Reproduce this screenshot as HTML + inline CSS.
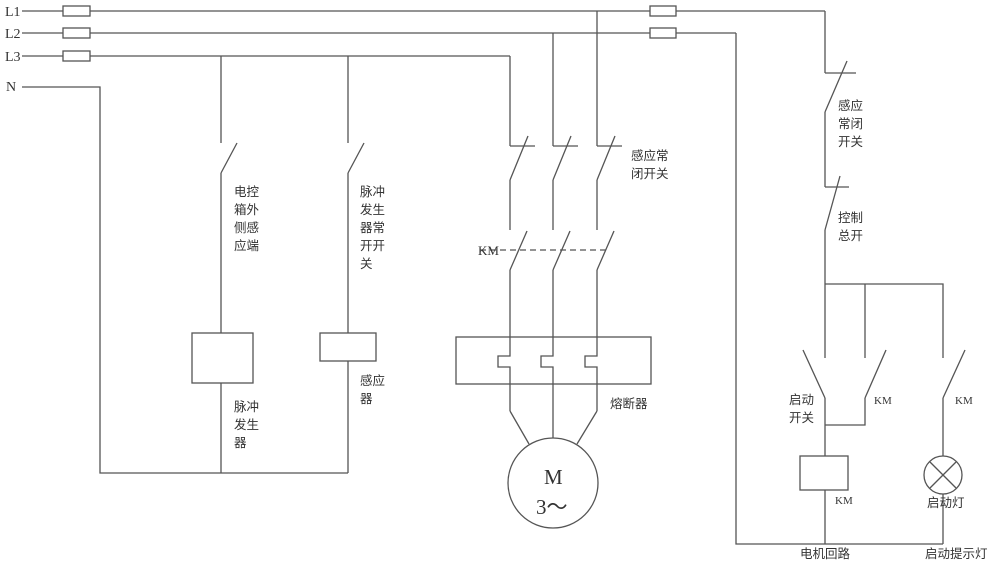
<!DOCTYPE html>
<html><head><meta charset="utf-8"><style>
body{margin:0;background:#fff}
svg{display:block}
text{font-family:"Liberation Sans","Noto Sans CJK SC",sans-serif;font-size:12.5px;fill:#333}
.s{font-family:"Liberation Serif",serif;font-size:14px}
</style></head><body>
<svg width="1000" height="567" viewBox="0 0 1000 567" xmlns="http://www.w3.org/2000/svg">
<g stroke="#555" stroke-width="1.3" fill="none">
<line x1="22" y1="11" x2="825" y2="11"/>
<line x1="22" y1="33" x2="736" y2="33"/>
<line x1="22" y1="56" x2="510" y2="56"/>
<polyline points="22,87 100,87 100,473 348,473"/>
<rect x="63" y="6" width="27" height="10" fill="#fff"/>
<rect x="63" y="28" width="27" height="10" fill="#fff"/>
<rect x="63" y="51" width="27" height="10" fill="#fff"/>
<rect x="650" y="6" width="26" height="10" fill="#fff"/>
<rect x="650" y="28" width="26" height="10" fill="#fff"/>
<line x1="221" y1="56" x2="221" y2="143"/>
<line x1="237" y1="143" x2="221" y2="173"/>
<line x1="221" y1="173" x2="221" y2="473"/>
<rect x="192" y="333" width="61" height="50" fill="#fff"/>
<line x1="348" y1="56" x2="348" y2="143"/>
<line x1="364" y1="143" x2="348" y2="173"/>
<line x1="348" y1="173" x2="348" y2="473"/>
<rect x="320" y="333" width="56" height="28" fill="#fff"/>
<line x1="510" y1="56" x2="510" y2="146"/>
<line x1="553" y1="33" x2="553" y2="146"/>
<line x1="597" y1="11" x2="597" y2="146"/>
<g id="ph">
<line x1="510" y1="146" x2="535" y2="146"/>
<line x1="528" y1="136" x2="510" y2="180"/>
<line x1="510" y1="180" x2="510" y2="230"/>
<line x1="527" y1="231" x2="510" y2="270"/>
<polyline points="510,270 510,356 498,356 498,367 510,367 510,411"/>
</g>
<use href="#ph" x="43"/>
<use href="#ph" x="87"/>
<line x1="510" y1="411" x2="529" y2="444"/>
<line x1="553" y1="411" x2="553" y2="439"/>
<line x1="597" y1="411" x2="577" y2="444"/>
<line x1="480" y1="250" x2="607" y2="250" stroke-dasharray="6,4"/>
<rect x="456" y="337" width="195" height="47"/>
<circle cx="553" cy="483" r="45" fill="#fff"/>
<line x1="825" y1="11" x2="825" y2="73"/>
<line x1="825" y1="73" x2="856" y2="73"/>
<line x1="847" y1="61" x2="825" y2="112"/>
<line x1="825" y1="112" x2="825" y2="187"/>
<line x1="825" y1="187" x2="849" y2="187"/>
<line x1="840" y1="176" x2="825" y2="230"/>
<line x1="825" y1="230" x2="825" y2="358"/>
<polyline points="825,284 943,284 943,358"/>
<line x1="865" y1="284" x2="865" y2="358"/>
<line x1="803" y1="350" x2="825" y2="398"/>
<line x1="825" y1="398" x2="825" y2="544"/>
<line x1="886" y1="350" x2="865" y2="398"/>
<polyline points="865,398 865,425 825,425"/>
<line x1="965" y1="350" x2="943" y2="398"/>
<line x1="943" y1="398" x2="943" y2="544"/>
<polyline points="736,33 736,544 943,544"/>
<rect x="800" y="456" width="48" height="34" fill="#fff"/>
<circle cx="943" cy="475" r="19" fill="#fff"/>
<line x1="930" y1="462" x2="956" y2="488"/>
<line x1="956" y1="462" x2="930" y2="488"/>
</g>
<g>
<text class="s" x="5" y="16">L1</text>
<text class="s" x="5" y="38">L2</text>
<text class="s" x="5" y="61">L3</text>
<text class="s" x="6" y="91">N</text>
<text class="s" x="478" y="255" style="font-size:13px">KM</text>
<text x="234" y="196">电控</text><text x="234" y="214">箱外</text><text x="234" y="232">侧感</text><text x="234" y="250">应端</text>
<text x="360" y="196">脉冲</text><text x="360" y="214">发生</text><text x="360" y="232">器常</text><text x="360" y="250">开开</text><text x="360" y="268">关</text>
<text x="234" y="411">脉冲</text><text x="234" y="429">发生</text><text x="234" y="447">器</text>
<text x="360" y="385">感应</text><text x="360" y="403">器</text>
<text x="631" y="160">感应常</text><text x="631" y="178">闭开关</text>
<text x="610" y="408">熔断器</text>
<text class="s" x="544" y="484" style="font-size:21px">M</text>
<text class="s" x="536" y="514" style="font-size:21px">3～</text>
<text x="838" y="110">感应</text><text x="838" y="128">常闭</text><text x="838" y="146">开关</text>
<text x="838" y="222">控制</text><text x="838" y="240">总开</text>
<text x="789" y="404">启动</text><text x="789" y="422">开关</text>
<text class="s" x="874" y="404" style="font-size:11px">KM</text>
<text class="s" x="955" y="404" style="font-size:11px">KM</text>
<text class="s" x="835" y="504" style="font-size:11px">KM</text>
<text x="927" y="507">启动灯</text>
<text x="800" y="558">电机回路</text>
<text x="925" y="558">启动提示灯</text>
</g>
</svg>
</body></html>
